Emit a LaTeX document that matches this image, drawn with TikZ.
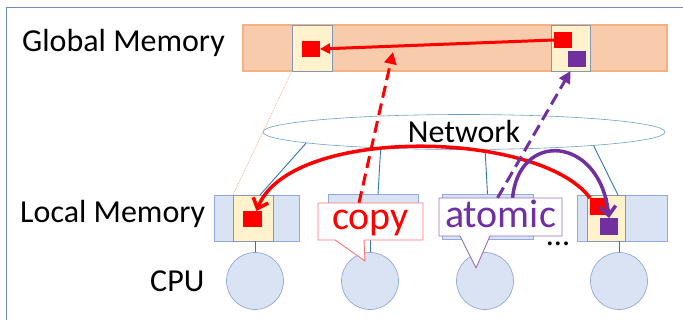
\documentclass[tikz,border=0pt]{standalone}
\usepackage{fontspec}
\setmainfont{Carlito}
\usetikzlibrary{arrows.meta,shapes.geometric}

\definecolor{peach}{HTML}{F8CBAD}
\definecolor{peachline}{HTML}{F4B183}
\definecolor{cellfill}{HTML}{FFF2CC}
\definecolor{cellline}{HTML}{8497B0}
\definecolor{lmemfill}{HTML}{DAE3F3}
\definecolor{lmemline}{HTML}{8FAADC}
\definecolor{linkblue}{HTML}{2E75B6}
\definecolor{framecol}{HTML}{6F8FB8}
\definecolor{atompurple}{HTML}{7030A0}

\begin{document}
\begin{tikzpicture}[x=1pt, y=-1pt,
    lbl/.style={inner sep=0, font=\fontsize{32}{36}\selectfont},
    box/.style={rectangle, inner sep=0, outer sep=0},
    gbar/.style={box, fill=peach, draw=peachline, line width=1.2pt},
    cellbox/.style={box, fill=cellfill, draw=cellline, line width=0.8pt},
    lmembox/.style={box, fill=lmemfill, draw=lmemline, line width=0.8pt},
    redsq/.style={box, fill=red, minimum width=18, minimum height=16},
    pursq/.style={box, fill=atompurple, minimum width=18, minimum height=16},
    cpunode/.style={circle, fill=lmemfill, draw=lmemline, line width=0.7pt, minimum size=57, inner sep=0},
    link/.style={draw=linkblue, line width=0.9pt},
    copybox/.style={box, fill=white, text=red, font=\fontsize{40}{44}\selectfont,
      minimum width=105, minimum height=37, text height=26, text depth=9},
    atombox/.style={box, fill=white, text=atompurple, font=\fontsize{40}{44}\selectfont,
      minimum width=123, minimum height=36, text height=30, text depth=8},
    thickred/.style={draw=red, line width=3pt},
    thickpur/.style={draw=atompurple, line width=3pt}]

    \useasboundingbox (0,0) rectangle (683,320);
    \draw[framecol, line width=1pt] (6,320) -- (6,8) -- (683,8);

    \node[lbl, anchor=base west] (glabel) at (22,52) {Global Memory};
    \node[lbl, anchor=base west] (llabel) at (20,223) {Local Memory};
    \node[lbl, anchor=base west] (clabel) at (150,292) {CPU};

    \node[gbar, minimum width=424, minimum height=46] (gmem) at (455,48) {};
    \node[cellbox, minimum width=40, minimum height=46] (gcell1) at (312,48) {};
    \node[cellbox, minimum width=39, minimum height=46] (gcell2) at (570.5,48) {};
    \node[redsq] (gred1) at (311,49) {};
    \node[redsq] (gred2) at (563,40) {};
    \node[pursq] (gpur) at (577,59) {};

    \node[lmembox, minimum width=85, minimum height=46] (lmem1) at (256.5,218) {};
    \node[lmembox, minimum width=90, minimum height=45] (lmem2) at (373,217) {};
    \node[lmembox, minimum width=91, minimum height=45] (lmem3) at (487.5,216.5) {};
    \node[lmembox, minimum width=90, minimum height=46] (lmem4) at (622,218) {};
    \node[cellbox, minimum width=40, minimum height=46] (lcell1) at (253,218) {};
    \node[cellbox, minimum width=38, minimum height=46] (lcell4) at (606,218) {};
    \node[redsq, minimum width=19] (lred1) at (252.5,219) {};
    \node[redsq, minimum height=17] (lred4) at (599,206.5) {};
    \node[pursq, minimum height=17] (lpur4) at (609,226.5) {};

    \draw[peachline, line width=0.8pt, densely dotted] (gcell1.south west) -- (lcell1.north west);

    \node[ellipse, draw=linkblue!70, line width=0.6pt, fill=white, inner sep=0,
      minimum width=402, minimum height=35, font=\fontsize{32}{36}\selectfont] (net) at (464,132) {Network};
    \draw[link] (net.184) -- ([xshift=3.5]lmem1.north);
    \draw[link] (net.191.5) -- ([xshift=5]lmem2.north);
    \draw[link] (net.320) -- (lmem3.north);
    \draw[link] (net.354) -- ([xshift=-4]lmem4.north);

    \foreach \i/\x in {1/255, 2/370, 3/485, 4/619}
      \node[cpunode] (cpu\i) at (\x,281) {};
    \draw[link] (cpu1) -- (cpu1 |- lmem1.south);
    \draw[link] (cpu2) -- (cpu2 |- lmem2.south);
    \draw[link] (cpu4) -- (cpu4 |- lmem4.south);

    \draw[thickred, -{Triangle[length=10pt,width=10pt]}] (gred2.west) -- (gred1.east);

    \draw[thickred, line width=3.5pt, -{Straight Barb[length=9pt,width=16pt]}]
      (lred4.north west) .. controls (540,130) and (290,125) .. ([xshift=4]lred1.north);
    \draw[thickpur, line width=3.5pt, -{Straight Barb[length=9pt,width=16pt]}]
      (512.5,199) .. controls (518,130) and (600,135) .. (lpur4.north);

    \node[copybox] (copy) at (370.5,221.5) {copy};
    \node[atombox] (atomic) at (500.5,217) {atomic};

    \draw[thickred, dash pattern=on 12pt off 6pt, -{Triangle[length=12pt,width=12pt]}]
      ([xshift=-11.5]copy.north) -- (393,52);
    \draw[thickpur, dash pattern=on 12pt off 6pt, -{Triangle[length=12pt,width=12pt]}]
      ([xshift=-3]atomic.north) -- (gcell2.south);

    \coordinate (copytip) at (365,261);
    \fill[white] ([xshift=-6.5]copy.south) -- (copytip) -- ([xshift=-35.5]copy.south) -- cycle;
    \draw[red!55, line width=0.9pt] (copy.south west) |- (copy.north east) |- ([xshift=-6.5]copy.south)
      -- (copytip) -- ([xshift=-35.5]copy.south) -- cycle;

    \coordinate (atomtip) at (476,268);
    \fill[white] ([xshift=-10.5]atomic.south) -- (atomtip) -- ([xshift=-40.5]atomic.south) -- cycle;
    \draw[atompurple!70, line width=0.9pt] (atomic.south west) |- (atomic.north east) |- ([xshift=-10.5]atomic.south)
      -- (atomtip) -- ([xshift=-40.5]atomic.south) -- cycle;

    \node[lbl, anchor=base, text height=5pt, text depth=0pt] (dots) at (558,246) {...};

\end{tikzpicture}
\end{document}
